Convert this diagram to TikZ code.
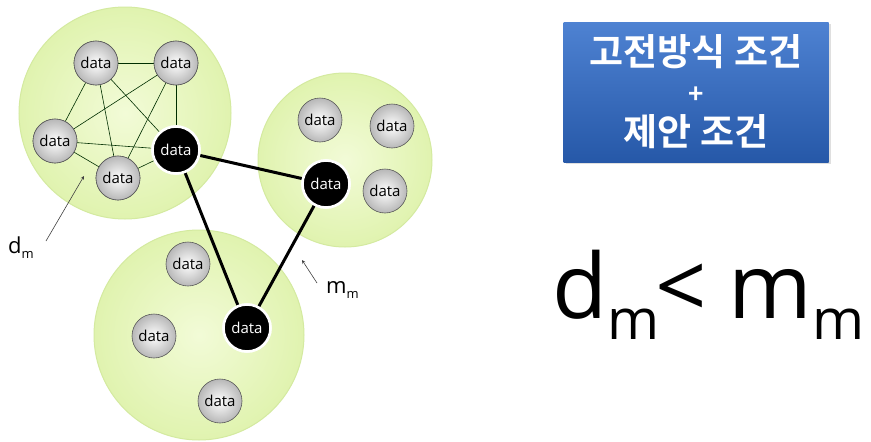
\documentclass[tikz,border=0pt]{standalone}
\usepackage{fontspec}
\setmainfont{Open Sans}
\newfontfamily\korfont{Noto Sans CJK KR Bold}
\usetikzlibrary{shadows}

\definecolor{clusterin}{RGB}{242,251,215}
\definecolor{clusterout}{RGB}{224,243,175}
\definecolor{clusteredge}{RGB}{212,234,160}
\definecolor{boxtop}{RGB}{78,130,210}
\definecolor{boxbottom}{RGB}{38,88,168}

\tikzset{
  cluster/.style={circle,draw=clusteredge,line width=1pt,inner color=clusterin,outer color=clusterout},
  datanode/.style={circle,draw=black!65,line width=.6pt,inner color=white,outer color=black!28,
    minimum size=44pt,inner sep=0pt,font=\fontsize{15}{15}\selectfont},
  headnode/.style={circle,draw=white,line width=2.5pt,fill=black,text=white,
    minimum size=47pt,inner sep=0pt,font=\fontsize{15}{15}\selectfont},
  link/.style={draw=black!70!green!60!black,line width=.6pt},
  thicklink/.style={draw=black,line width=3pt},
  pointer/.style={draw=black!75,line width=.6pt,-stealth}
}

\begin{document}
\begin{tikzpicture}[x=1pt,y=-1pt]
  \useasboundingbox[fill=white] (0,0) rectangle (871,442);

  % clusters
  \node[cluster,minimum size=212pt] (ca) at (125,113) {};
  \node[cluster,minimum size=174pt] (cb) at (345,160) {};
  \node[cluster,minimum size=210pt] (cc) at (199,335) {};

  % cluster A, fully meshed
  \node[datanode] (a1) at (96,63) {data};
  \node[datanode] (a2) at (176,63) {data};
  \node[datanode] (a3) at (55,141) {data};
  \node[datanode] (a4) at (118,178) {data};
  \node[headnode] (ha) at (176,150) {data};
  \foreach \u/\v in {a1/a2,a1/a3,a1/a4,a1/ha,a2/a3,a2/a4,a2/ha,a3/a4,a3/ha,a4/ha}
    \path[link] (\u) -- (\v);
  \foreach \n in {a1,a2,a3,a4}
    \node[datanode] at (\n) {data};

  % cluster B
  \node[datanode] (b1) at (320,120) {data};
  \node[datanode] (b2) at (392,126) {data};
  \node[datanode] (b3) at (385,191) {data};
  \node[headnode] (hb) at (326,184) {data};

  % cluster C
  \node[datanode] (c1) at (188,264) {data};
  \node[datanode] (c2) at (154,336) {data};
  \node[datanode] (c3) at (220,401) {data};
  \node[headnode] (hc) at (247,328) {data};

  % links between heads
  \path[thicklink] (ha) -- (hb);
  \path[thicklink] (hb) -- (hc);
  \path[thicklink] (ha) -- (hc);
  \node[headnode] at (ha) {data};
  \node[headnode] at (hb) {data};
  \node[headnode] at (hc) {data};

  % distance labels
  \coordinate (dtip) at (84,176);
  \node[anchor=base west,inner sep=0pt,font=\fontsize{22}{22}\selectfont] (dlab) at (8,253)
    {d\raisebox{-5pt}{\fontsize{13}{13}\selectfont m}};
  \path[pointer] (46,241) -- (dtip);
  \coordinate (mtip) at (302,260);
  \node[anchor=base west,inner sep=0pt,font=\fontsize{22}{22}\selectfont] (mlab) at (326,293)
    {m\raisebox{-5pt}{\fontsize{13}{13}\selectfont m}};
  \path[pointer] (317,283) -- (mtip);

  % condition box
  \node[draw=none,minimum width=265pt,minimum height=140pt,top color=boxtop,bottom color=boxbottom,
    drop shadow={opacity=.25,shadow xshift=2pt,shadow yshift=-2pt},
    text=white,align=center,font=\korfont\fontsize{37}{46}\selectfont] (cond) at (696,92)
    {고전방식 조건\\[-8pt]{\fontsize{26}{26}\selectfont +}\\[-4pt]제안 조건};

  % inequality
  \node[anchor=base west,inner sep=0pt,font=\fontsize{90}{90}\selectfont] (ineq) at (552,318)
    {d\raisebox{-21pt}{\fontsize{56}{56}\selectfont m}\kern-4pt<\kern22pt m\raisebox{-21pt}{\fontsize{56}{56}\selectfont m}};
\end{tikzpicture}
\end{document}
